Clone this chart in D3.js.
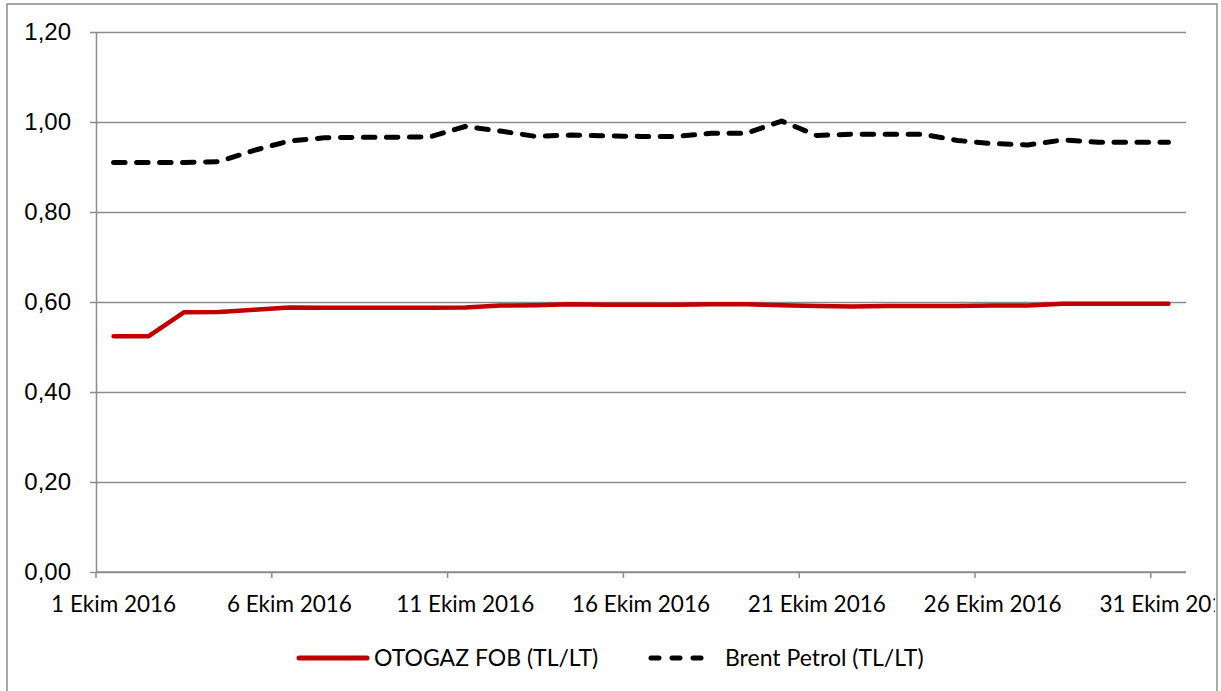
<!DOCTYPE html>
<html>
<head>
<meta charset="utf-8">
<script src="https://cdn.jsdelivr.net/npm/d3@7"></script>
<style>
  body { margin: 0; background: #fff; }
  svg { display: block; font-family: Lato, "Open Sans", sans-serif; }
</style>
</head>
<body>
<div class="vis"></div>
<script>
// day of month (Ekim 2016)
const days = [1, 2, 3, 4, 5, 6, 7, 8, 9, 10, 11, 12, 13, 14, 15, 16,
  17, 18, 19, 20, 21, 22, 23, 24, 25, 26, 27, 28, 29, 30, 31];

const otogaz = [0.524, 0.524, 0.577, 0.578, 0.583, 0.588, 0.587, 0.587, 0.587, 0.587,
  0.588, 0.592, 0.593, 0.595, 0.594, 0.594, 0.594, 0.595, 0.595, 0.593,
  0.591, 0.590, 0.591, 0.591, 0.591, 0.592, 0.592, 0.596, 0.596, 0.596, 0.596];

const brent = [0.910, 0.910, 0.910, 0.912, 0.937, 0.958, 0.965, 0.966, 0.966, 0.967,
  0.990, 0.980, 0.968, 0.971, 0.969, 0.968, 0.968, 0.975, 0.975, 1.002,
  0.970, 0.973, 0.973, 0.973, 0.959, 0.952, 0.949, 0.960, 0.955, 0.955, 0.955];

const tickDays = [1, 6, 11, 16, 21, 26, 31];
const yTicks = [0, 0.2, 0.4, 0.6, 0.8, 1.0, 1.2];

const seriesNames = ["OTOGAZ FOB (TL/LT)", "Brent Petrol (TL/LT)"];

const W = 1221, H = 691;
const margin = { top: 32, right: 35, bottom: 119, left: 96 };
const width = W - margin.left - margin.right;
const height = H - margin.top - margin.bottom;
const grey = "#8c8c8c";

const svg = d3.select(".vis").append("svg")
  .attr("width", W)
  .attr("height", H);

svg.append("clipPath").attr("id", "frame")
  .append("rect").attr("x", 7).attr("y", 4).attr("width", 1208).attr("height", H);

// outer chart border
svg.append("rect")
  .attr("x", 7).attr("y", 4)
  .attr("width", 1210).attr("height", H + 10)
  .attr("fill", "none")
  .attr("stroke", grey)
  .attr("stroke-width", 1.5);

const g = svg.append("g")
  .attr("clip-path", "url(#frame)")
  .append("g")
  .attr("transform", `translate(${margin.left},${margin.top})`);

const x = d3.scaleBand().domain(days).range([0, width]);
const y = d3.scaleLinear().domain([0, 1.2]).range([height, 0]);
const fmt = (d) => d3.format(".2f")(d).replace(".", ",");

// gridlines
g.append("g")
  .call(d3.axisLeft(y).tickValues(yTicks).tickSize(-width).tickFormat(""))
  .call((s) => s.select(".domain").remove())
  .call((s) => s.selectAll("line").attr("stroke", grey).attr("stroke-width", 1.5));

// y axis
g.append("g")
  .call(d3.axisLeft(y).tickValues(yTicks).tickSize(6).tickSizeOuter(0).tickPadding(19).tickFormat(fmt))
  .call((s) => s.select(".domain").attr("stroke", grey).attr("stroke-width", 1.5))
  .call((s) => s.selectAll(".tick line").attr("stroke", grey).attr("stroke-width", 1.5))
  .call((s) => s.selectAll("text").attr("fill", "#000").style("font-size", "24px"));

// x axis: ticks at category boundaries, labels at category centres
const xa = g.append("g").attr("transform", `translate(0,${height})`);
xa.append("line")
  .attr("x1", 0).attr("x2", width)
  .attr("stroke", grey).attr("stroke-width", 1.5);
xa.selectAll(".xt").data(tickDays).join("line")
  .attr("class", "xt")
  .attr("x1", (d) => x(d)).attr("x2", (d) => x(d))
  .attr("y1", 0).attr("y2", 6)
  .attr("stroke", grey).attr("stroke-width", 1.5);
xa.selectAll(".xl").data(tickDays).join("text")
  .attr("class", "xl")
  .attr("x", (d) => x(d) + x.bandwidth() / 2)
  .attr("y", 40)
  .attr("text-anchor", "middle")
  .style("font-size", "22.5px")
  .text((d) => d + " Ekim 2016");

const line = d3.line()
  .x((d, i) => x(days[i]) + x.bandwidth() / 2)
  .y((d) => y(d));

g.append("path")
  .datum(otogaz)
  .attr("d", line)
  .attr("fill", "none")
  .attr("stroke", "#c00000")
  .attr("stroke-width", 4.5)
  .attr("stroke-linejoin", "round")
  .attr("stroke-linecap", "round");

g.append("path")
  .datum(brent)
  .attr("d", line)
  .attr("fill", "none")
  .attr("stroke", "#000")
  .attr("stroke-width", 5)
  .attr("stroke-dasharray", "11.5,11.5")
  .attr("stroke-linejoin", "round")
  .attr("stroke-linecap", "round");

// legend
const legend = svg.append("g").attr("transform", "translate(0,658)");
const items = [
  { name: seriesNames[0], x0: 299, x1: 367, color: "#c00000", dash: null, tx: 374 },
  { name: seriesNames[1], x0: 651, x1: 707, color: "#000", dash: "8,13", tx: 725 }
];
items.forEach((it) => {
  legend.append("line")
    .attr("x1", it.x0).attr("x2", it.x1)
    .attr("stroke", it.color)
    .attr("stroke-width", 5)
    .attr("stroke-linecap", "round")
    .attr("stroke-dasharray", it.dash);
  legend.append("text")
    .attr("x", it.tx).attr("y", 8)
    .style("font-size", "23px")
    .text(it.name);
});
</script>
</body>
</html>
